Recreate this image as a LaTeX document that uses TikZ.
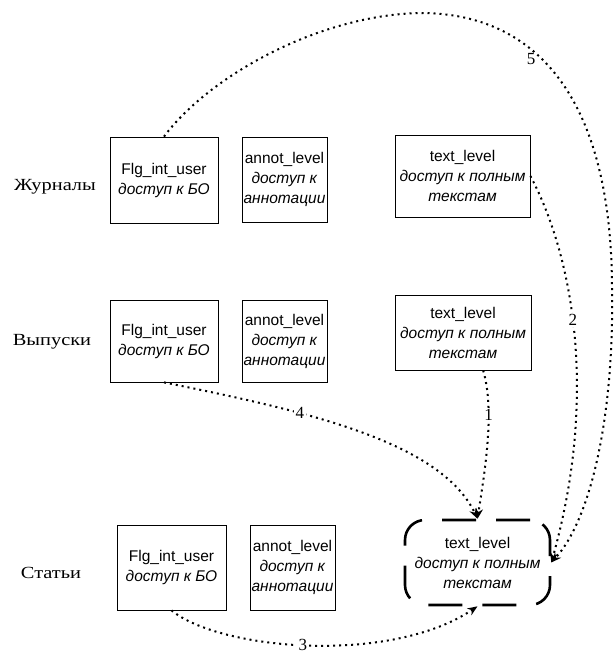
\documentclass[tikz,border=0pt]{standalone}
\usepackage{fontspec}
\setmainfont{Liberation Sans}
\newfontfamily\labfont[FakeStretch=1.2]{Liberation Serif}
\newfontfamily\numfont{Liberation Serif}
\usetikzlibrary{arrows.meta}
\tikzset{
  box/.style={draw, line width=0.8pt, align=center, inner sep=0pt,
    font=\fontsize{15.5}{20}\selectfont},
  rowlab/.style={font=\labfont\fontsize{17}{20}\selectfont},
  conn/.style={line width=2pt, dash pattern=on 2pt off 4pt,
    -{Stealth[length=10pt,width=8pt]}},
  num/.style={font=\numfont\fontsize{17}{18}\selectfont, fill=white, inner sep=1.5pt},
  target/.style={box, line width=2.6pt, rounded corners=20pt, dash pattern=on 34pt off 20pt}
}
\begin{document}
\begin{tikzpicture}[x=1pt,y=-1pt]
\useasboundingbox (0,0) rectangle (613,658);
\fill[white] (0,0) rectangle (613,658);

% row labels
\node[rowlab] (lj) at (55,187) {Журналы};
\node[rowlab] (lv) at (52,342) {Выпуски};
\node[rowlab] (ls) at (51,573) {Статьи};

% row 1
\node[box, minimum width=108pt, minimum height=86pt] (f1) at (164,180)
  {Flg\_int\_user\\\textit{доступ к БО}};
\node[box, minimum width=85pt, minimum height=85pt] (a1) at (284.5,179.5)
  {annot\_level\\\textit{доступ к}\\\textit{аннотации}};
\node[box, minimum width=135pt, minimum height=82pt] (t1) at (462.5,176)
  {text\_level\\\textit{доступ к полным}\\\textit{текстам}};

% row 2
\node[box, minimum width=108pt, minimum height=82pt] (f2) at (164,341)
  {Flg\_int\_user\\\textit{доступ к БО}};
\node[box, minimum width=85pt, minimum height=82pt] (a2) at (284.5,341)
  {annot\_level\\\textit{доступ к}\\\textit{аннотации}};
\node[box, minimum width=136pt, minimum height=75pt] (t2) at (463,332.5)
  {text\_level\\\textit{доступ к полным}\\\textit{текстам}};

% row 3
\node[box, minimum width=109pt, minimum height=85pt] (f3) at (171.5,567.5)
  {Flg\_int\_user\\\textit{доступ к БО}};
\node[box, minimum width=85pt, minimum height=85pt] (a3) at (292.5,567.5)
  {annot\_level\\\textit{доступ к}\\\textit{аннотации}};
\node[target, minimum width=145pt, minimum height=85pt] (t3) at (477.5,562.5)
  {text\_level\\\textit{доступ к полным}\\\textit{текстам}};

% connectors
\draw[conn] (t2.298) .. controls (495,410) and (485,470) .. (t3.north)
  node[num, pos=0.33] {1};
\draw[conn] (t1.east) .. controls (575,260) and (597,400) .. (t3.east)
  node[num, pos=0.45] {2};
\draw[conn] (f3.south) .. controls (220,650) and (390,665) .. (t3.south)
  node[num, pos=0.48] {3};
\draw[conn] (f2.south) .. controls (300,410) and (440,440) .. (t3.north)
  node[num, pos=0.34] {4};
\draw[conn] (f1.north) .. controls (210,75) and (320,15) .. (420,13)
  .. controls (545,13) and (612,110) .. (612,290)
  node[pos=0.4, left=2pt, font=\numfont\fontsize{17}{18}\selectfont] (n5) {5}
  .. controls (614,420) and (590,520) .. (t3.east);
\end{tikzpicture}
\end{document}
